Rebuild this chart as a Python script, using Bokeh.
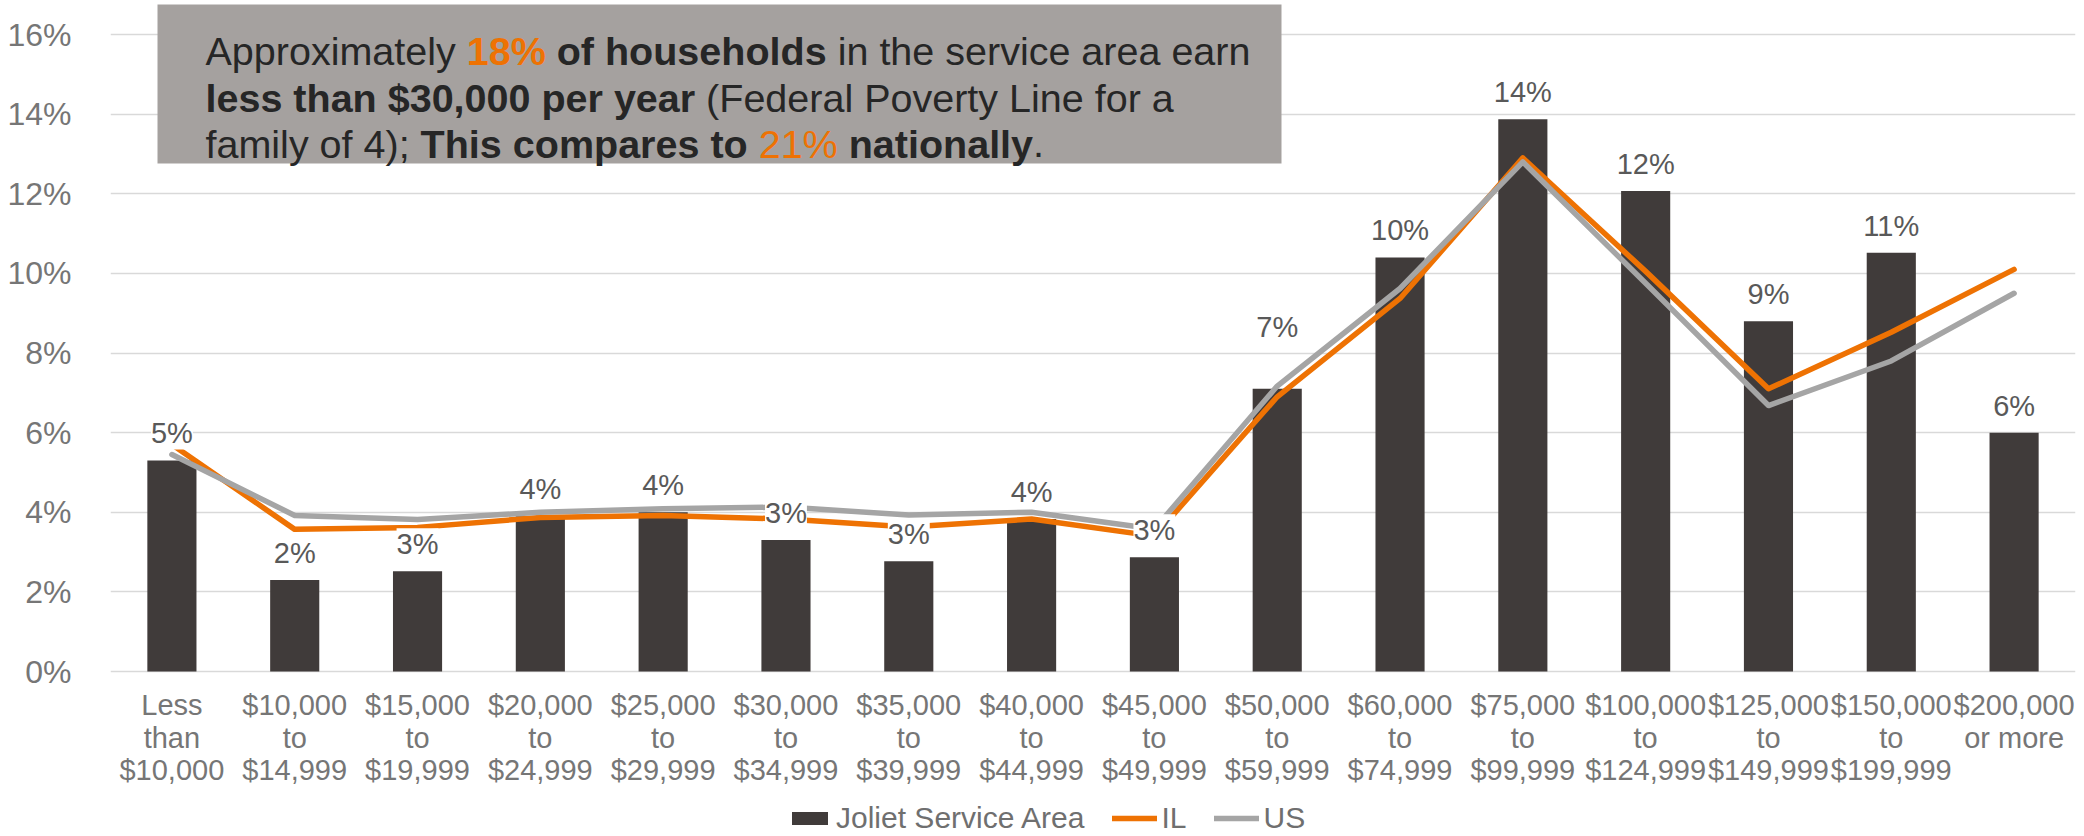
from bokeh.plotting import figure
from bokeh.models import (FactorRange, Range1d, FixedTicker, PrintfTickFormatter,
                          ColumnDataSource, LabelSet, Label, Legend, LegendItem, BoxAnnotation)
from bokeh.core.properties import value
from bokeh.embed import file_html
from bokeh.resources import INLINE

# ---------------- data ----------------
categories = [
    "Less\nthan\n$10,000", "$10,000\nto\n$14,999", "$15,000\nto\n$19,999",
    "$20,000\nto\n$24,999", "$25,000\nto\n$29,999", "$30,000\nto\n$34,999",
    "$35,000\nto\n$39,999", "$40,000\nto\n$44,999", "$45,000\nto\n$49,999",
    "$50,000\nto\n$59,999", "$60,000\nto\n$74,999", "$75,000\nto\n$99,999",
    "$100,000\nto\n$124,999", "$125,000\nto\n$149,999", "$150,000\nto\n$199,999",
    "$200,000\nor more",
]
joliet = [5.3, 2.3, 2.52, 3.9, 4.0, 3.3, 2.77, 3.83, 2.87, 7.1, 10.4, 13.87, 12.07, 8.8, 10.52, 6.0]
il = [5.7, 3.57, 3.62, 3.87, 3.92, 3.83, 3.63, 3.83, 3.4, 6.9, 9.37, 12.9, 10.05, 7.1, 8.52, 10.1]
us = [5.45, 3.92, 3.82, 4.0, 4.09, 4.13, 3.93, 4.0, 3.58, 7.17, 9.62, 12.8, 9.75, 6.68, 7.8, 9.5]
y_ticks = [0, 2, 4, 6, 8, 10, 12, 14, 16]
series_names = ["Joliet Service Area", "IL", "US"]

# ---------------- style / layout ----------------
FONT = "Liberation Sans"
BAR_C = "#403B3A"
IL_C = "#EE7203"
US_C = "#A5A5A5"
GRID_C = "#D9D9D9"
AX_C = "#767676"
LAB_C = "#595959"
BOX_C = "#A5A19F"
DARK = "#262626"

W, H = 2084, 836
F_LEFT, F_RIGHT = 110, 2075          # plot area, page pixels
Y0_PX, Y16_PX = 671, 34              # page y of 0% and 16%
px_per_unit = (Y0_PX - Y16_PX) / 16.0
y_start = -(H - Y0_PX) / px_per_unit
y_end = 16 + Y16_PX / px_per_unit

# extra lift (px) of individual data labels, as placed in the original slide
label_lift = [0, 0, 0, 0, 0, 0, 0, 0, 0, 35, 0, 0, 0, 0, 0, 0]


def sx(page_x):
    return page_x - F_LEFT


def sy(page_y):
    return H - page_y


p = figure(width=W, height=H, x_range=FactorRange(*categories), y_range=Range1d(y_start, y_end),
           output_backend="svg", toolbar_location=None, x_axis_location=None,
           min_border_left=F_LEFT, min_border_right=W - F_RIGHT, min_border_top=0, min_border_bottom=0)
p.outline_line_color = None
p.background_fill_color = "white"
p.border_fill_color = "white"
p.xgrid.grid_line_color = None
p.ygrid.grid_line_color = GRID_C
p.ygrid.grid_line_width = 1.6
p.x_range.range_padding = 0

p.yaxis.ticker = FixedTicker(ticks=y_ticks)
p.yaxis.formatter = PrintfTickFormatter(format="%d%%")
p.yaxis.axis_line_color = None
p.yaxis.major_tick_line_color = None
p.yaxis.minor_tick_line_color = None
p.yaxis.major_label_text_font = FONT
p.yaxis.major_label_text_color = AX_C
p.yaxis.major_label_text_font_size = "32px"
p.yaxis.major_label_standoff = 33

split = [c.split("\n") + [""] * (3 - len(c.split("\n"))) for c in categories]
src = ColumnDataSource(dict(cat=categories, joliet=joliet, il=il, us=us,
                            lab=[f"{int(v + 0.5)}%" for v in joliet],
                            lift=[17 + d for d in label_lift],
                            l1=[s[0] for s in split], l2=[s[1] for s in split],
                            l3=[s[2] for s in split]))

bars = p.vbar(x="cat", top="joliet", bottom=0, width=0.4, source=src, fill_color=BAR_C, line_color=None)
l_il = p.line(x="cat", y="il", source=src, line_color=IL_C, line_width=5.5,
              line_join="round", line_cap="round")
l_us = p.line(x="cat", y="us", source=src, line_color=US_C, line_width=5.5,
              line_join="round", line_cap="round")

# category (x axis) labels, one centred row per text line
for col, off in (("l1", -43), ("l2", -76), ("l3", -108)):
    p.add_layout(LabelSet(x="cat", y=0, text=col, source=src, text_align="center",
                          text_baseline="alphabetic", y_offset=off,
                          text_font=value(FONT), text_font_size="29px", text_color=AX_C))

# data labels
ls_kw = {}
if "padding" in LabelSet.properties():
    ls_kw["padding"] = 6
labels = LabelSet(x="cat", y="joliet", text="lab", source=src, text_align="center",
                  text_baseline="alphabetic", y_offset="lift",
                  text_font=value(FONT), text_font_size="29px", text_color=LAB_C,
                  background_fill_color="white", **ls_kw)
p.add_layout(labels)

legend = Legend(items=[LegendItem(label=series_names[0], renderers=[bars]),
                       LegendItem(label=series_names[1], renderers=[l_il]),
                       LegendItem(label=series_names[2], renderers=[l_us])],
                orientation="horizontal", location=(sx(787), 1),
                label_text_font=FONT, label_text_font_size="30px", label_text_color="#6F6F6F",
                label_text_line_height=1.0, label_height=30,
                glyph_width=45, glyph_height=16, label_standoff=4, spacing=28,
                padding=0, margin=0, border_line_color=None, background_fill_alpha=0)
p.add_layout(legend, "center")

# ---------------- text box ----------------
box = BoxAnnotation(left=sx(157), right=sx(1281), bottom=sy(163), top=sy(4),
                    left_units="screen", right_units="screen",
                    top_units="screen", bottom_units="screen",
                    fill_color=BOX_C, fill_alpha=1.0, line_color=None)
p.add_layout(box)

REG = {' ': 278, 'A': 667, 'F': 611, 'L': 556, 'P': 667, 'T': 611, 'a': 556, 'b': 556,
       'c': 500, 'd': 556, 'e': 556, 'f': 278, 'g': 556, 'h': 556, 'i': 222, 'j': 222,
       'k': 500, 'l': 222, 'm': 833, 'n': 556, 'o': 556, 'p': 556, 'q': 556, 'r': 333,
       's': 500, 't': 278, 'u': 556, 'v': 500, 'w': 722, 'x': 500, 'y': 500, 'z': 500,
       '%': 889, '$': 556, ',': 278, '.': 278, '(': 333, ')': 333, ';': 278}
BOLD = {' ': 278, 'T': 611, 'a': 556, 'b': 611, 'c': 556, 'd': 611, 'e': 556, 'f': 333,
        'g': 611, 'h': 611, 'i': 278, 'l': 278, 'm': 889, 'n': 611, 'o': 611, 'p': 611,
        'r': 389, 's': 556, 't': 333, 'u': 611, 'v': 556, 'y': 556, '%': 889, '$': 556,
        ',': 278, '.': 278, ';': 333}


def text_width(s, bold, size):
    tbl = BOLD if bold else REG
    tot = 0
    for ch in s:
        tot += 556 if ch.isdigit() else tbl.get(ch, 556)
    return tot * size / 1000.0


BOX_FS = 39.5
box_lines = [
    [("Approximately ", False, DARK), ("18%", True, IL_C), (" of households", True, DARK),
     (" in the service area earn", False, DARK)],
    [("less than $30,000 per year", True, DARK), (" (Federal Poverty Line for a", False, DARK)],
    [("family of 4); ", False, DARK), ("This compares to ", True, DARK), ("21%", False, IL_C),
     (" nationally", True, DARK), (".", False, DARK)],
]
baselines = [50, 97, 143]
for line, by in zip(box_lines, baselines):
    x = sx(205)
    for seg, bold, col in line:
        lead = len(seg) - len(seg.lstrip(" "))
        xs = x + text_width(seg[:lead], bold, BOX_FS)
        txt = seg.strip(" ")
        if txt:
            p.add_layout(Label(x=xs, y=sy(by), x_units="screen", y_units="screen", text=txt,
                               text_font=FONT, text_font_size=f"{BOX_FS}px",
                               text_font_style="bold" if bold else "normal",
                               text_color=col, text_baseline="alphabetic", text_align="left"))
        x += text_width(seg, bold, BOX_FS)

open("out.html", "w").write(file_html(p, INLINE))
